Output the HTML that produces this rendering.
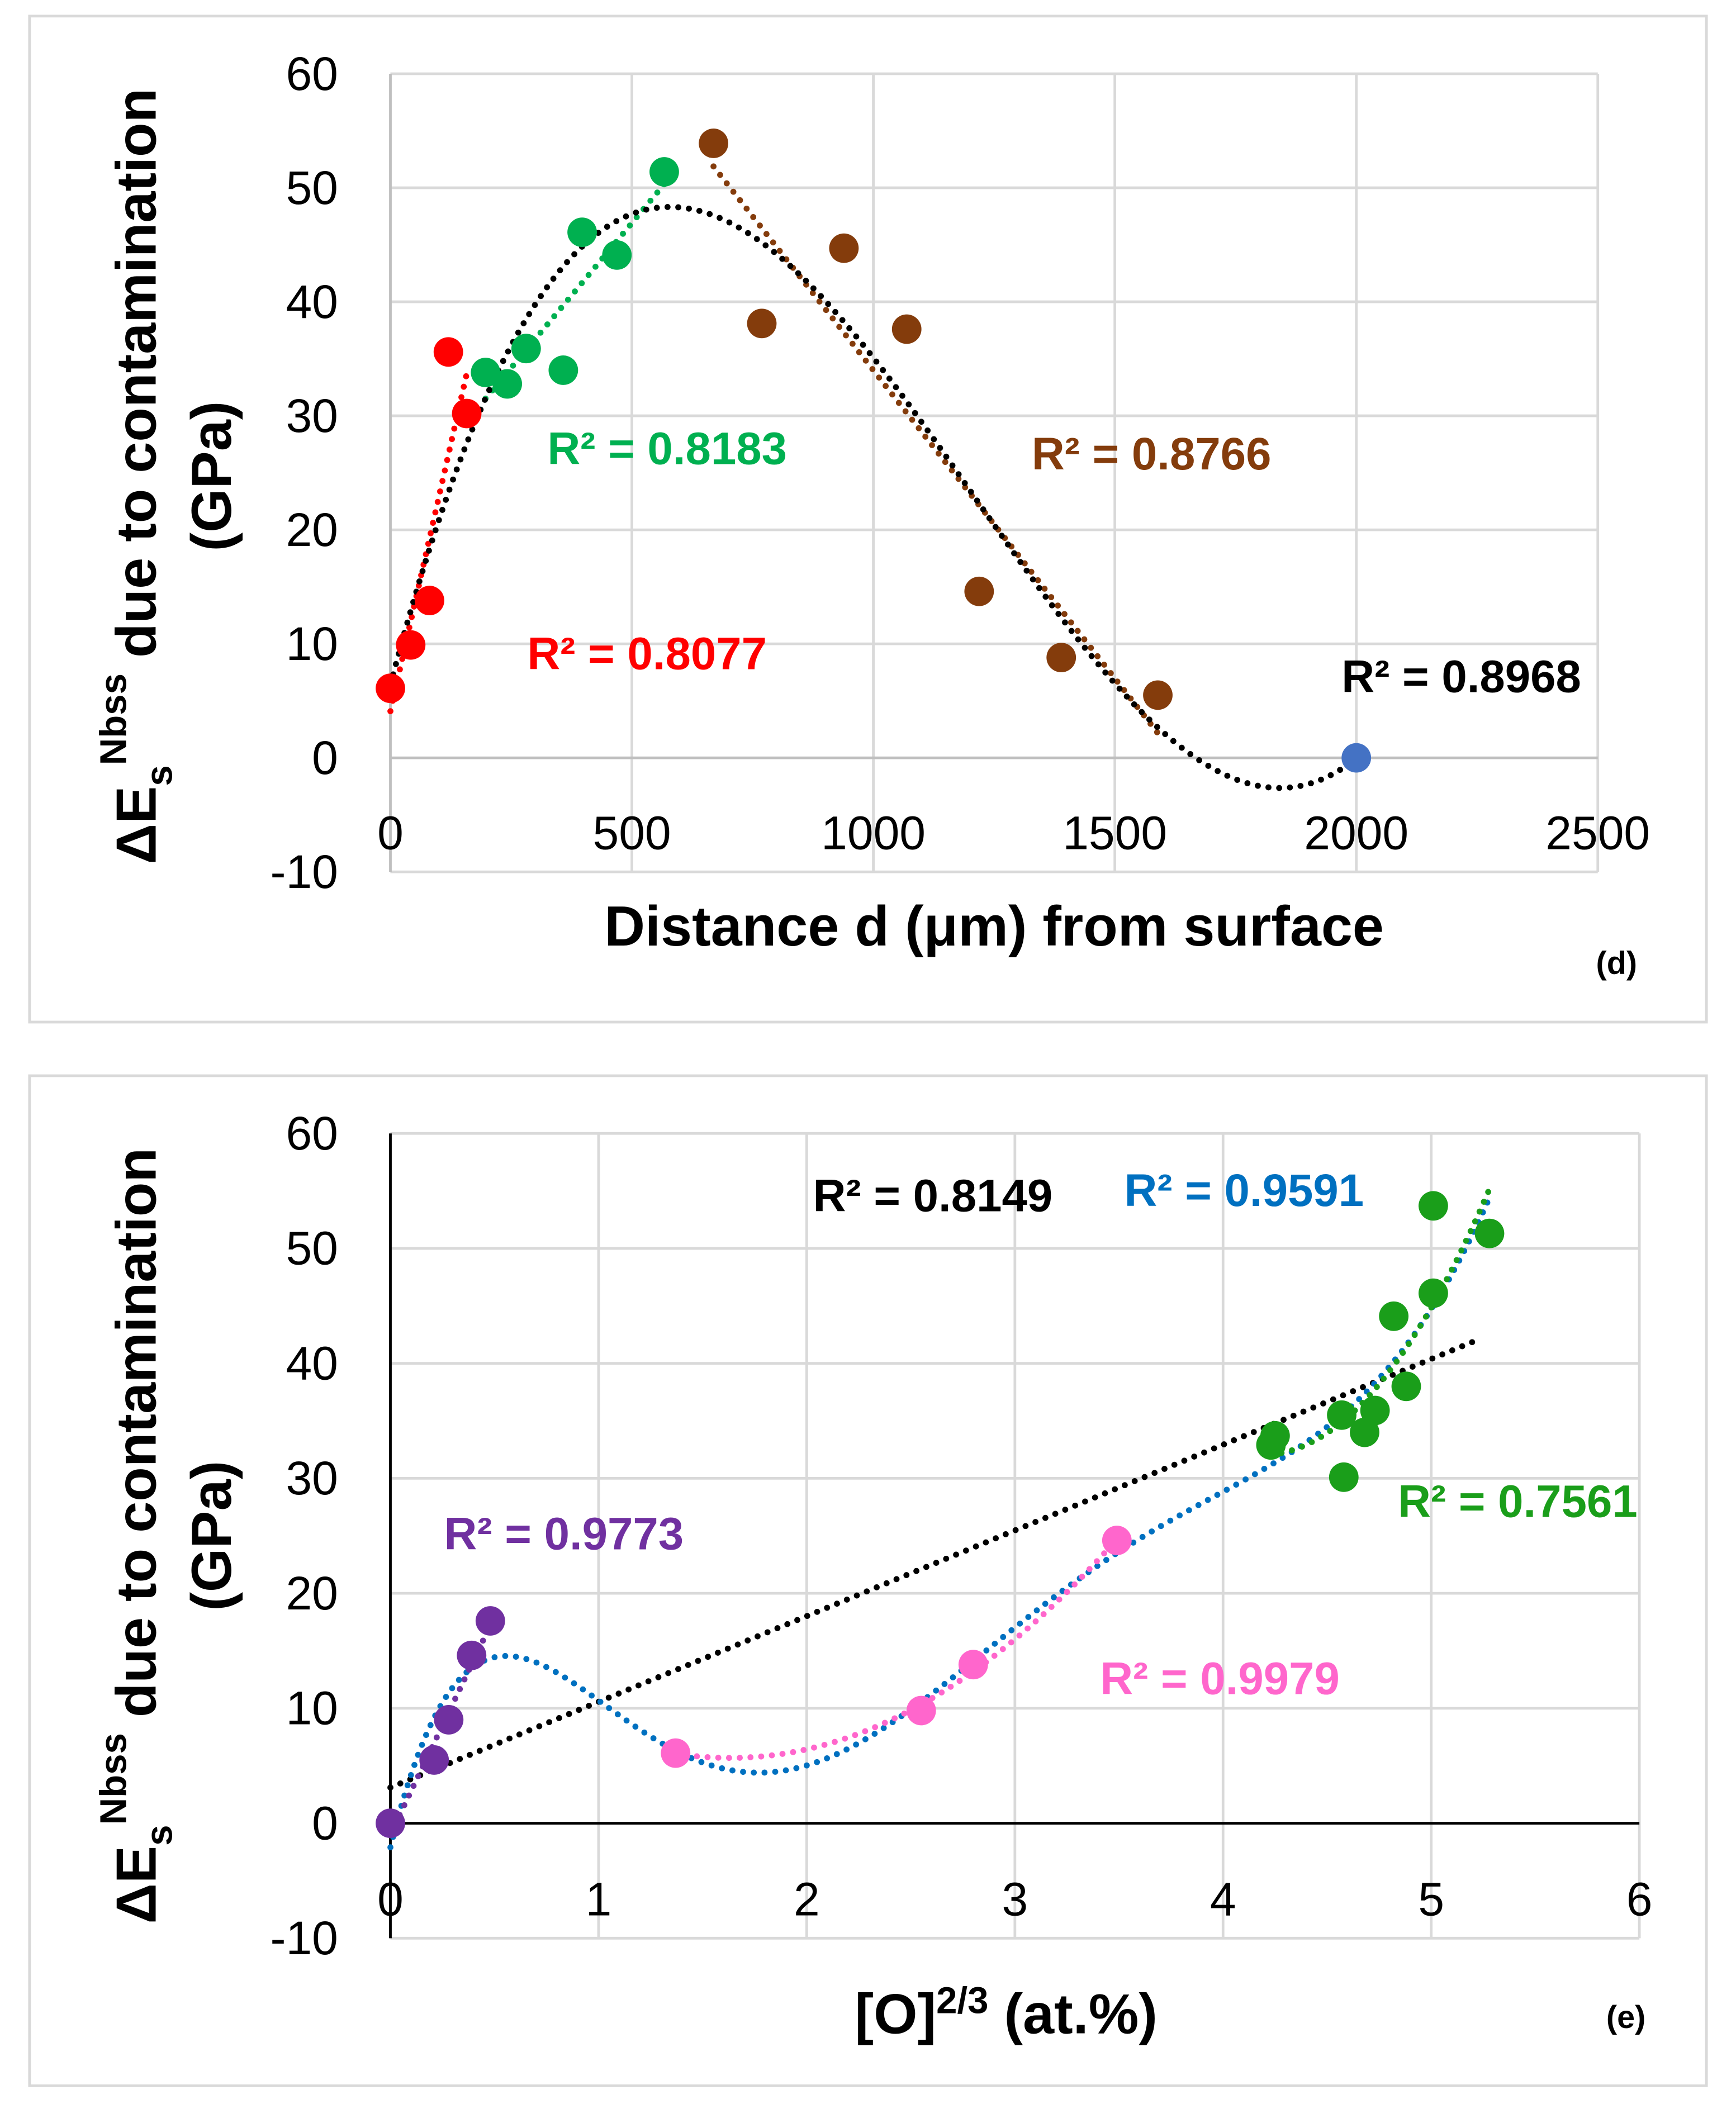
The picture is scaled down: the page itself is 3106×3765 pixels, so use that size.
<!DOCTYPE html>
<html><head><meta charset="utf-8"><style>
html,body{margin:0;padding:0;background:#fff}
svg{display:block}
text{font-family:"Liberation Sans",sans-serif}
</style></head><body>
<svg id="chart" width="3106" height="3765" viewBox="0 0 1294 1568.6" xmlns="http://www.w3.org/2000/svg">
<rect x="0" y="0" width="1294" height="1568.6" fill="#fff"/>
<rect x="22" y="12" width="1250" height="750" fill="none" stroke="#d9d9d9" stroke-width="2"/>
<rect x="22" y="802" width="1250" height="753" fill="none" stroke="#d9d9d9" stroke-width="2"/>
<g id="gd"></g>
<g id="ge"></g>
</svg>
<script>
// ---- Panel (d) data ----
const dTicksX = [0, 500, 1000, 1500, 2000, 2500];
const dTicksY = [-10, 0, 10, 20, 30, 40, 50, 60];
const dRedX = [0, 42, 81, 120, 158];
const dRedY = [6.1, 9.9, 13.8, 35.6, 30.2];
const dGreenX = [197, 242, 281, 358, 397, 469, 567];
const dGreenY = [33.8, 32.8, 35.9, 34.0, 46.1, 44.1, 51.4];
const dBrownX = [669, 769, 939, 1069, 1219, 1389, 1589];
const dBrownY = [53.9, 38.1, 44.7, 37.6, 14.6, 8.8, 5.5];
const dBlueX = [2000];
const dBlueY = [0];
const dR2 = ["R² = 0.8077", "R² = 0.8183", "R² = 0.8766", "R² = 0.8968"];
// ---- Panel (e) data ----
const eTicksX = [0, 1, 2, 3, 4, 5, 6];
const eTicksY = [-10, 0, 10, 20, 30, 40, 50, 60];
const ePurpleX = [0, 0.21, 0.28, 0.39, 0.48];
const ePurpleY = [0, 5.5, 9.0, 14.6, 17.6];
const ePinkX = [1.37, 2.55, 2.80, 3.49];
const ePinkY = [6.1, 9.8, 13.8, 24.6];
const eGreenX = [4.23, 4.25, 4.57, 4.58, 4.68, 4.73, 4.82, 4.88, 5.01, 5.01, 5.28];
const eGreenY = [32.9, 33.7, 35.5, 30.1, 34.0, 35.9, 44.1, 38.0, 46.1, 53.7, 51.3];
const eR2 = ["R² = 0.8149", "R² = 0.9591", "R² = 0.9773", "R² = 0.9979", "R² = 0.7561"];

const NS = "http://www.w3.org/2000/svg";
function mk(parent, tag, attrs, txt) {
  const el = document.createElementNS(NS, tag);
  for (const k in attrs) el.setAttribute(k, attrs[k]);
  if (txt !== undefined) el.textContent = txt;
  parent.appendChild(el);
  return el;
}
function polyfit(xs, ys, deg) {
  const n = deg + 1, m = xs.length;
  const mn = Math.min(...xs), mxv = Math.max(...xs);
  const mx = (mn + mxv) / 2;
  let sx = (mxv - mn) / 2 || 1;
  const A = [], b = [];
  for (let i = 0; i < n; i++) { A.push(new Array(n).fill(0)); b.push(0); }
  for (let k = 0; k < m; k++) {
    const t = (xs[k] - mx) / sx;
    for (let i = 0; i < n; i++) {
      b[i] += ys[k] * Math.pow(t, i);
      for (let j = 0; j < n; j++) A[i][j] += Math.pow(t, i + j);
    }
  }
  for (let i = 0; i < n; i++) {
    let p = i;
    for (let r = i + 1; r < n; r++) if (Math.abs(A[r][i]) > Math.abs(A[p][i])) p = r;
    [A[i], A[p]] = [A[p], A[i]]; [b[i], b[p]] = [b[p], b[i]];
    for (let r = i + 1; r < n; r++) {
      const f = A[r][i] / A[i][i];
      for (let c = i; c < n; c++) A[r][c] -= f * A[i][c];
      b[r] -= f * b[i];
    }
  }
  const c = new Array(n).fill(0);
  for (let i = n - 1; i >= 0; i--) {
    let s = b[i];
    for (let j = i + 1; j < n; j++) s -= A[i][j] * c[j];
    c[i] = s / A[i][i];
  }
  return x => { const t = (x - mx) / sx; let s = 0; for (let i = 0; i < n; i++) s += c[i] * Math.pow(t, i); return s; };
}
function trend(g, f, x0, x1, sx, sy, color, name) {
  let d = "";
  for (let i = 0; i <= 200; i++) {
    const x = x0 + (x1 - x0) * i / 200;
    d += (i ? "L" : "M") + sx(x).toFixed(2) + "," + sy(f(x)).toFixed(2);
  }
  const p = mk(g, "path", { d: d, fill: "none", stroke: color, "stroke-width": 4.5, "stroke-linecap": "round", "stroke-dasharray": "0 8" });
  
  
}
function points(g, xs, ys, sx, sy, color, name) {
  xs.forEach((x, i) => {
    const c = mk(g, "circle", { cx: sx(x), cy: sy(ys[i]), r: 11, fill: color });
    
    
  });
}
function label(g, x, y, txt, color, name, size, anchor, weight) {
  const t = mk(g, "text", { x: x, y: y, fill: color, "font-size": size, "text-anchor": anchor || "start", "font-weight": weight || "normal" }, txt);
  
  
  return t;
}
function yTitle(g, cy) {
  const t = mk(g, "text", { transform: "translate(116," + cy + ") rotate(-90)", "text-anchor": "middle", "font-size": 42, "font-weight": "bold", fill: "#000" });
  
  
  mk(t, "tspan", {}, "ΔE");
  mk(t, "tspan", { "font-size": 28, dy: 12 }, "s");
  mk(t, "tspan", { "font-size": 28, dy: -34 }, "Nbss");
  mk(t, "tspan", { dy: 22 }, " due to contamination");
  const t2 = mk(g, "text", { transform: "translate(172," + cy + ") rotate(-90)", "text-anchor": "middle", "font-size": 42, "font-weight": "bold", fill: "#000" }, "(GPa)");
  
  
}
const TICK = 35, R2F = 34;

// ---- Panel d ----
(function () {
  const g = document.getElementById("gd");
  const L = 291, R = 1191, T = 55, B = 650;
  const sx = v => L + (v - 0) / 2500 * (R - L);
  const sy = v => B - (v + 10) / 70 * (B - T);
  dTicksX.forEach(v => { if (v > 0) { const l = mk(g, "line", { x1: sx(v), x2: sx(v), y1: T, y2: B, stroke: "#d9d9d9", "stroke-width": 2 });   } });
  dTicksY.forEach(v => { const l = mk(g, "line", { x1: L, x2: R, y1: sy(v), y2: sy(v), stroke: v === 0 ? "#bfbfbf" : "#d9d9d9", "stroke-width": 2 });   });
  const ya = mk(g, "line", { x1: L, x2: L, y1: T, y2: B, stroke: "#bfbfbf", "stroke-width": 2 });
   
  dTicksY.forEach(v => label(g, 252, sy(v) + 12, String(v), "#000", "y-tick-label", TICK, "end"));
  dTicksX.forEach(v => label(g, sx(v), 633, String(v), "#000", "x-tick-label", TICK, "middle"));
  yTitle(g, 355);
  label(g, 741, 705, "Distance d (μm) from surface", "#000", "x-axis-title", 42, "middle", "bold");
  label(g, 1205, 726, "(d)", "#000", "panel-label", 24, "middle", "bold");
  const allX = dRedX.concat(dGreenX, dBrownX, dBlueX), allY = dRedY.concat(dGreenY, dBrownY, dBlueY);
  trend(g, polyfit(dRedX, dRedY, 1), dRedX[0], dRedX[dRedX.length - 1], sx, sy, "#ff0000", "red-trendline");
  trend(g, polyfit(dGreenX, dGreenY, 1), dGreenX[0], dGreenX[dGreenX.length - 1], sx, sy, "#00b050", "green-trendline");
  trend(g, polyfit(dBrownX, dBrownY, 1), dBrownX[0], dBrownX[dBrownX.length - 1], sx, sy, "#843c0c", "brown-trendline");
  trend(g, polyfit(allX, allY, 3), 0, 2000, sx, sy, "#000", "black-trendline");
  points(g, dRedX, dRedY, sx, sy, "#ff0000", "red-point");
  points(g, dGreenX, dGreenY, sx, sy, "#00b050", "green-point");
  points(g, dBrownX, dBrownY, sx, sy, "#843c0c", "brown-point");
  points(g, dBlueX, dBlueY, sx, sy, "#4472c4", "blue-point");
  label(g, 393, 499, dR2[0], "#ff0000", "red-r2-label", R2F, "start", "bold");
  label(g, 408, 346, dR2[1], "#00b050", "green-r2-label", R2F, "start", "bold");
  label(g, 769, 350, dR2[2], "#843c0c", "brown-r2-label", R2F, "start", "bold");
  label(g, 1000, 516, dR2[3], "#000", "black-r2-label", R2F, "start", "bold");
})();

// ---- Panel e ----
(function () {
  const g = document.getElementById("ge");
  const L = 291, R = 1222, T = 845, B = 1445;
  const sx = v => L + v / 6 * (R - L);
  const sy = v => B - (v + 10) / 70 * (B - T);
  eTicksX.forEach(v => { if (v > 0) { const l = mk(g, "line", { x1: sx(v), x2: sx(v), y1: T, y2: B, stroke: "#d9d9d9", "stroke-width": 2 });   } });
  eTicksY.forEach(v => { if (v !== 0) { const l = mk(g, "line", { x1: L, x2: R, y1: sy(v), y2: sy(v), stroke: "#d9d9d9", "stroke-width": 2 });   } });
  const xa = mk(g, "line", { x1: L, x2: R, y1: sy(0), y2: sy(0), stroke: "#000", "stroke-width": 2 });
   
  const ya = mk(g, "line", { x1: L, x2: L, y1: T, y2: B, stroke: "#000", "stroke-width": 2 });
   
  eTicksY.forEach(v => label(g, 252, sy(v) + 12, String(v), "#000", "y-tick-label", TICK, "end"));
  eTicksX.forEach(v => label(g, sx(v), 1428, String(v), "#000", "x-tick-label", TICK, "middle"));
  yTitle(g, 1145);
  const xt = label(g, 750, 1516, "[O]", "#000", "x-axis-title", 42, "middle", "bold");
  mk(xt, "tspan", { "font-size": 28, dy: -15 }, "2/3");
  mk(xt, "tspan", { dy: 15 }, " (at.%)");
  label(g, 1212, 1512, "(e)", "#000", "panel-label", 24, "middle", "bold");
  const allX = ePurpleX.concat(ePinkX, eGreenX), allY = ePurpleY.concat(ePinkY, eGreenY);
  const xmax = Math.max(...allX);
  trend(g, polyfit(allX, allY, 1), 0, xmax * 0.99, sx, sy, "#000", "black-trendline");
  trend(g, polyfit(allX, allY, 6), 0, xmax, sx, sy, "#0070c0", "blue-trendline");
  trend(g, polyfit(ePurpleX, ePurpleY, 1), 0, ePurpleX[ePurpleX.length - 1], sx, sy, "#7030a0", "purple-trendline");
  trend(g, polyfit(ePinkX, ePinkY, 2), ePinkX[0], ePinkX[ePinkX.length - 1], sx, sy, "#ff66cc", "pink-trendline");
  trend(g, polyfit(eGreenX, eGreenY, 2), eGreenX[0], eGreenX[eGreenX.length - 1], sx, sy, "#1a9e1a", "green-trendline");
  points(g, ePurpleX, ePurpleY, sx, sy, "#7030a0", "purple-point");
  points(g, ePinkX, ePinkY, sx, sy, "#ff66cc", "pink-point");
  points(g, eGreenX, eGreenY, sx, sy, "#1a9e1a", "green-point");
  label(g, 606, 903, eR2[0], "#000", "black-r2-label", R2F, "start", "bold");
  label(g, 838, 899, eR2[1], "#0070c0", "blue-r2-label", R2F, "start", "bold");
  label(g, 331, 1155, eR2[2], "#7030a0", "purple-r2-label", R2F, "start", "bold");
  label(g, 820, 1263, eR2[3], "#ff66cc", "pink-r2-label", R2F, "start", "bold");
  label(g, 1042, 1131, eR2[4], "#1a9e1a", "green-r2-label", R2F, "start", "bold");
})();
</script>
</body></html>
